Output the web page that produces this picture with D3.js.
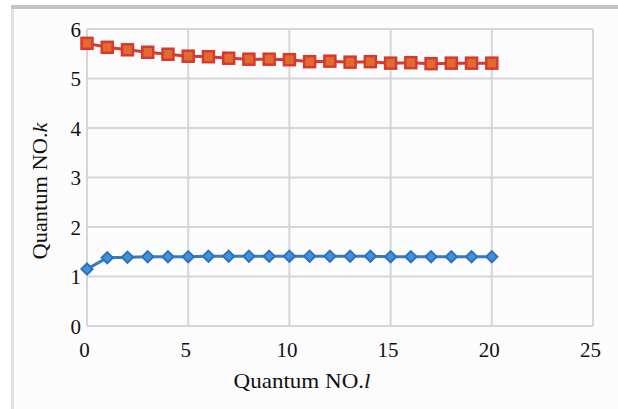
<!DOCTYPE html>
<html>
<head>
<meta charset="utf-8">
<script src="https://cdn.jsdelivr.net/npm/d3@7/dist/d3.min.js"></script>
<style>
  html, body { margin: 0; padding: 0; background: #ffffff; }
  svg { display: block; }
  text { font-family: "Liberation Serif", "Times New Roman", serif; fill: #111; }
</style>
</head>
<body>
<svg id="chart" width="618" height="409"></svg>
<script>
const lValues = [0,1,2,3,4,5,6,7,8,9,10,11,12,13,14,15,16,17,18,19,20];
const seriesRed = [5.71,5.63,5.58,5.53,5.49,5.45,5.44,5.41,5.39,5.39,5.38,5.34,5.35,5.33,5.34,5.31,5.32,5.30,5.31,5.31,5.31];
const seriesBlue = [1.15,1.38,1.39,1.40,1.40,1.40,1.41,1.41,1.41,1.41,1.41,1.41,1.41,1.41,1.41,1.40,1.40,1.40,1.40,1.40,1.40];
const xTicks = [0,5,10,15,20,25];
const yTicks = [0,1,2,3,4,5,6];

const svg = d3.select("#chart");
const W = 618, H = 409;
const plot = {left: 87, right: 593, top: 29, bottom: 326};
const serif = "'Liberation Serif', 'Times New Roman', serif";

// outer frame
svg.append("rect").attr("x",0).attr("y",0).attr("width",W).attr("height",H).attr("fill","#ffffff");
svg.append("rect").attr("x",14).attr("y",9).attr("width",W-14).attr("height",H-9).attr("fill","#fcfcfc");
svg.append("rect").attr("x",11).attr("y",5).attr("width",W-11).attr("height",4).attr("fill","#c4c4c4");
svg.append("rect").attr("x",11).attr("y",9).attr("width",3).attr("height",H-9).attr("fill","#e2e2e2");

const x = d3.scaleLinear().domain([0,25]).range([plot.left, plot.right]);
const y = d3.scaleLinear().domain([0,6]).range([plot.bottom, plot.top]);

// grid
const g = svg.append("g");
g.append("g").selectAll("line").data(xTicks).join("line")
  .attr("x1", d=>x(d)).attr("x2", d=>x(d)).attr("y1", plot.top).attr("y2", plot.bottom)
  .attr("stroke","#d6d6da").attr("stroke-width",2);
g.append("g").selectAll("line").data(yTicks).join("line")
  .attr("x1", plot.left).attr("x2", plot.right).attr("y1", d=>y(d)).attr("y2", d=>y(d))
  .attr("stroke","#d6d6da").attr("stroke-width",2);

// axes
const xAxis = d3.axisBottom(x).tickValues(xTicks).tickFormat(d3.format("d")).tickSize(0).tickPadding(16);
const gx = svg.append("g").attr("transform",`translate(-3,${plot.bottom})`).call(xAxis);
gx.select(".domain").remove();
gx.selectAll("text").style("font-size","21px").style("font-family",serif).style("fill","#111");

const yAxis = d3.axisLeft(y).tickValues(yTicks).tickFormat(d3.format("d")).tickSize(0).tickPadding(6);
const gy = svg.append("g").attr("transform",`translate(${plot.left},0)`).call(yAxis);
gy.select(".domain").remove();
gy.selectAll("text").style("font-size","21px").style("font-family",serif).style("fill","#111").attr("dy","0.35em");

// axis titles
const xt = svg.append("text").attr("x",302).attr("y",388).attr("text-anchor","middle")
  .style("font-size","21px").style("font-family",serif).attr("textLength",137).attr("lengthAdjust","spacingAndGlyphs");
xt.append("tspan").text("Quantum NO.");
xt.append("tspan").style("font-style","italic").text("l");
const yt = svg.append("text").attr("transform","translate(47,191) rotate(-90)").attr("text-anchor","middle")
  .style("font-size","21px").style("font-family",serif).attr("textLength",137).attr("lengthAdjust","spacingAndGlyphs");
yt.append("tspan").text("Quantum NO.");
yt.append("tspan").style("font-style","italic").text("k");

// lines
const line = d3.line().x(d=>x(d[0])).y(d=>y(d[1]));
const redData = lValues.map((l,i)=>[l, seriesRed[i]]);
const blueData = lValues.map((l,i)=>[l, seriesBlue[i]]);

svg.append("path").datum(blueData).attr("d",line).attr("fill","none").attr("stroke","#3a78c0").attr("stroke-width",3);
svg.append("g").selectAll("path").data(blueData).join("path")
  .attr("d", d3.symbol(d3.symbolDiamond2, 80)())
  .attr("transform", d=>`translate(${x(d[0])},${y(d[1])})`)
  .attr("fill","#3f93d8").attr("stroke","#2f72bc").attr("stroke-width",2);

svg.append("path").datum(redData).attr("d",line).attr("fill","none").attr("stroke","#d8392f").attr("stroke-width",3);
svg.append("g").selectAll("rect").data(redData).join("rect")
  .attr("x", d=>x(d[0])-5.5).attr("y", d=>y(d[1])-5.5).attr("width",11).attr("height",11)
  .attr("fill","#df6b2e").attr("stroke","#d8392f").attr("stroke-width",2.5);
</script>
</body>
</html>
